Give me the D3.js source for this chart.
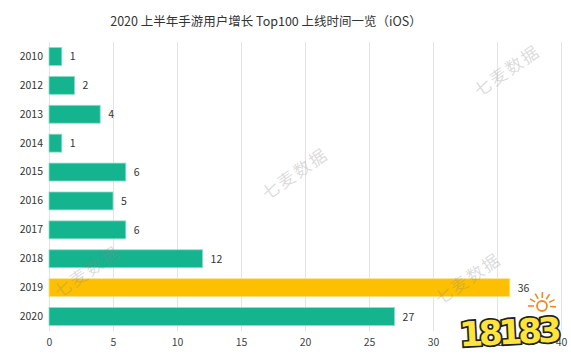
<!DOCTYPE html>
<html><head><meta charset="utf-8">
<script src="https://cdn.jsdelivr.net/npm/d3@7"></script>
<style>
body{margin:0;background:#fff;}
svg{display:block;font-family:"Noto Sans CJK SC","Noto Sans",sans-serif;}
</style></head>
<body><svg id="c" width="571" height="359"></svg>
<script>
const categories = ["2010","2012","2013","2014","2015","2016","2017","2018","2019","2020"];
const values = [1,2,4,1,6,5,6,12,36,27];
const highlight = ["2019"];
const xTicks = [0,5,10,15,20,25,30,35,40];
const titleText = "2020 上半年手游用户增长 Top100 上线时间一览（iOS）";
const watermarkText = "七麦数据";
const watermarks = [[508,72],[296,175],[88,273],[469,280]];

const svg = d3.select("#c");
const x = d3.scaleLinear().domain([0,40]).range([49,561]);
const y = d3.scaleBand().domain(categories).range([42,331]).paddingInner(0.38).paddingOuter(0.19);

svg.append("text").attr("x",266).attr("y",26).attr("text-anchor","middle")
  .attr("font-size",12.5).attr("fill","#333").text(titleText);

// grid
svg.append("g").selectAll("line").data(xTicks).join("line")
  .attr("x1",d=>x(d)+0.5).attr("x2",d=>x(d)+0.5).attr("y1",42).attr("y2",331)
  .attr("stroke","#e3e3e3").attr("stroke-width",1);

// bars
svg.append("g").selectAll("rect").data(categories).join("rect")
  .attr("x",x(0)).attr("y",d=>y(d)).attr("height",y.bandwidth())
  .attr("width",(d,i)=>x(values[i])-x(0))
  .attr("fill",d=>highlight.includes(d)?"#fcc000":"#13b48e")
  .attr("stroke",d=>highlight.includes(d)?"#fde08a":"#8fdcc8").attr("stroke-width",0.8);

// value labels
svg.append("g").selectAll("text").data(categories).join("text")
  .attr("x",(d,i)=>x(values[i])+8).attr("y",d=>y(d)+y.bandwidth()/2+4)
  .attr("font-size",10.5).attr("fill","#333").text((d,i)=>values[i]);

// watermarks (over bars)
svg.append("g").selectAll("text").data(watermarks).join("text")
  .attr("transform",d=>`translate(${d[0]},${d[1]}) rotate(-35)`)
  .attr("text-anchor","middle").attr("dominant-baseline","middle")
  .attr("font-size",17).attr("letter-spacing",2).attr("fill","#888").attr("fill-opacity",0.3).text(watermarkText);

// y axis labels
const yAxis = d3.axisLeft(y).tickSize(0).tickPadding(6);
const gy = svg.append("g").attr("transform",`translate(${x(0)},0)`).call(yAxis);
gy.select(".domain").remove();
gy.selectAll("text").attr("font-size",10.5).attr("fill","#333").attr("font-family",'"Noto Sans CJK SC",sans-serif');

// x axis labels
const xAxis = d3.axisBottom(x).tickValues(xTicks).tickSize(0).tickPadding(8);
const gx = svg.append("g").attr("transform",`translate(0,331)`).call(xAxis);
gx.select(".domain").remove();
gx.selectAll("text").attr("font-size",10.5).attr("fill","#444").attr("font-family",'"Noto Sans CJK SC",sans-serif');

// 18183 logo approximation
const sun = svg.append("g").attr("transform","translate(542,306)");
sun.selectAll("line").data(d3.range(7)).join("line")
  .attr("x1",d=>8*Math.cos(Math.PI*(1.0+d*0.17))).attr("y1",d=>8*Math.sin(Math.PI*(1.0+d*0.17)))
  .attr("x2",d=>14*Math.cos(Math.PI*(1.0+d*0.17))).attr("y2",d=>14*Math.sin(Math.PI*(1.0+d*0.17)))
  .attr("stroke","#f08a24").attr("stroke-width",1.6);
sun.append("circle").attr("r",5).attr("fill","none").attr("stroke","#f08a24").attr("stroke-width",1.8);
const logo = svg.append("g").attr("transform","translate(509,344) rotate(-3)");
logo.append("text").attr("text-anchor","middle").attr("font-size",34).attr("font-weight",900)
  .attr("font-family","'DejaVu Sans',sans-serif").attr("letter-spacing",-4)
  .attr("fill","#ffe53b").attr("stroke","#222").attr("stroke-width",3.5).attr("paint-order","stroke")
  .text("18183");
</script></body></html>
